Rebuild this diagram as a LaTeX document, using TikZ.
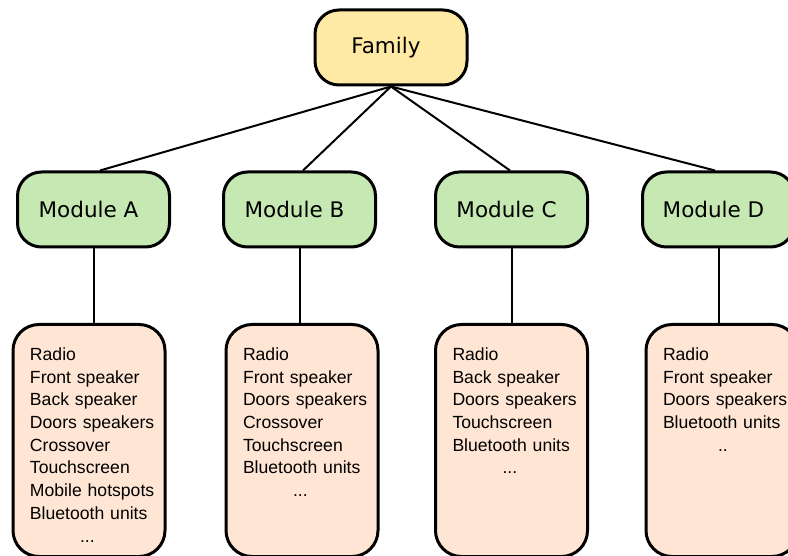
\documentclass[tikz,border=0pt]{standalone}
\usepackage{fontspec}
\setmainfont{Liberation Sans}
\newfontfamily\boxfont{DejaVu Sans}
\tikzset{
  topbox/.style={draw, line width=3pt, rounded corners=24pt, minimum width=152pt, minimum height=75pt, inner sep=0pt, font=\boxfont\fontsize{21.5}{25}\selectfont, execute at end node={\hspace*{10pt}}},
  listbox/.style={draw, line width=3pt, rounded corners=26pt, fill=ListPeach, anchor=north, inner sep=0pt, text width=152pt, align=left, text height=36pt, text depth=196pt, font=\fontsize{17.6}{22.7}\selectfont, execute at begin node={\leftskip=17pt}},
  link/.style={line width=2pt}
}
\begin{document}
\begin{tikzpicture}[x=1pt, y=-1pt]
\definecolor{FamYellow}{RGB}{255, 234, 165}
\definecolor{ModGreen}{RGB}{198, 232, 178}
\definecolor{ListPeach}{RGB}{255, 229, 212}
\useasboundingbox (0,0) rectangle (788,556);
\clip (0,0) rectangle (788,556);
\node[topbox, fill=FamYellow] (family) at (391,47.5) {Family};
\foreach \n/\x/\o in {A/93.5/6.5, B/299.5/3.5, C/511.5/-1.5, D/718.5/-3.5}{
\node[topbox, fill=ModGreen] (mod\n) at (\x,209.5) {Module \n};
\draw[link] (family.south) -- ([xshift=\o pt]mod\n.north);
}
\node[listbox] (listA) at (89,323) {Radio\\ Front speaker\\ Back speaker\\ Doors speakers\\ Crossover\\ Touchscreen\\ Mobile hotspots\\ Bluetooth units\\ \hspace*{50pt}...};
\node[listbox] (listB) at (302,323) {Radio\\ Front speaker\\ Doors speakers\\ Crossover\\ Touchscreen\\ Bluetooth units\\ \hspace*{50pt}...};
\node[listbox] (listC) at (511.5,323) {Radio\\ Back speaker\\ Doors speakers\\ Touchscreen\\ Bluetooth units\\ \hspace*{50pt}...};
\node[listbox] (listD) at (722,323) {Radio\\ Front speaker\\ Doors speakers\\ Bluetooth units\\ \hspace*{55pt}..};
\foreach \n in {A,B,C,D}{
\draw[link] (mod\n.south) -- (mod\n.south |- list\n.north);
}
\end{tikzpicture}
\end{document}
